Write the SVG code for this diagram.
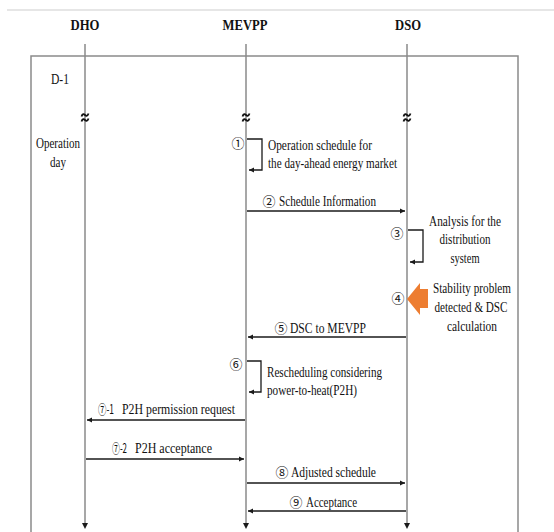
<svg xmlns="http://www.w3.org/2000/svg" width="554" height="532" viewBox="0 0 554 532">
<style>
text{font-family:"Liberation Serif","Noto Sans CJK KR",serif;font-size:14px;fill:#111}
.title{font-weight:bold;font-size:15px}
.c{text-anchor:middle}
.life{stroke:#8a8a8a;stroke-width:1.5;fill:none}
.msg{stroke:#1a1a1a;stroke-width:1.3;fill:none}
.sq{stroke:#111;stroke-width:1.8;fill:none}
.num{font-family:"Noto Sans CJK KR","DejaVu Sans",sans-serif;font-size:13px}
</style>
<defs>
<marker id="ah" markerWidth="6" markerHeight="6" refX="5" refY="3" orient="auto" markerUnits="userSpaceOnUse">
<path d="M0,0.5 L5,3 L0,5.5 Z" fill="#1a1a1a"/>
</marker>
<g id="squig">
<path class="sq" d="M-3.5,1.5 C-2.5,-1.5 -1,-1 0,0 S2.5,1.5 3.5,-1.5"/>
<path class="sq" d="M-3.5,6.5 C-2.5,3.5 -1,4 0,5 S2.5,6.5 3.5,3.5"/>
</g>
</defs>
<rect x="0" y="0" width="554" height="532" fill="#fff"/>
<line x1="7" y1="10" x2="554" y2="10" stroke="#e6e6e6" stroke-width="2"/>
<rect id="frame" x="31" y="56" width="487" height="490" fill="none" stroke="#8a8a8a" stroke-width="1.5"/>
<text x="51" y="84" textLength="18" lengthAdjust="spacingAndGlyphs">D-1</text>

<g id="DHO">
<text class="title c" x="85" y="30" textLength="29" lengthAdjust="spacingAndGlyphs">DHO</text>
<line class="life" x1="85" y1="44" x2="85" y2="524"/>
<path d="M82,523 L88,523 L85,529 Z" fill="#1a1a1a"/>
<use href="#squig" x="85" y="115"/>
<text class="c" x="58" y="148" textLength="44" lengthAdjust="spacingAndGlyphs">Operation</text>
<text class="c" x="58" y="167" textLength="16" lengthAdjust="spacingAndGlyphs">day</text>
</g>
<g id="MEVPP">
<text class="title c" x="245" y="30" textLength="45" lengthAdjust="spacingAndGlyphs">MEVPP</text>
<line class="life" x1="246" y1="44" x2="246" y2="524"/>
<path d="M243,523 L249,523 L246,529 Z" fill="#1a1a1a"/>
<use href="#squig" x="246" y="115"/>
</g>
<g id="DSO">
<text class="title c" x="408" y="30" textLength="26" lengthAdjust="spacingAndGlyphs">DSO</text>
<line class="life" x1="407" y1="44" x2="407" y2="524"/>
<path d="M404,523 L410,523 L407,529 Z" fill="#1a1a1a"/>
<use href="#squig" x="407" y="115"/>
</g>

<g id="connectors">
<path class="msg" d="M247,139 H262 V170 H249" marker-end="url(#ah)"/>
<line class="msg" x1="247" y1="211" x2="405" y2="211" marker-end="url(#ah)"/>
<path class="msg" d="M408,230 H423 V262 H410" marker-end="url(#ah)"/>
<line class="msg" x1="406" y1="337" x2="248" y2="337" marker-end="url(#ah)"/>
<path class="msg" d="M247,361 H261 V392 H249" marker-end="url(#ah)"/>
<line class="msg" x1="245" y1="420" x2="87" y2="420" marker-end="url(#ah)"/>
<line class="msg" x1="86" y1="459" x2="244" y2="459" marker-end="url(#ah)"/>
<line class="msg" x1="247" y1="483" x2="405" y2="483" marker-end="url(#ah)"/>
<line class="msg" x1="406" y1="511" x2="248" y2="511" marker-end="url(#ah)"/>
</g>

<g id="step1">
<text class="num c" x="238" y="148">①</text>
<text x="268" y="150" textLength="104" lengthAdjust="spacingAndGlyphs">Operation schedule for</text>
<text x="268" y="168" textLength="129" lengthAdjust="spacingAndGlyphs">the day-ahead  energy market</text>
</g>
<g id="step2">
<text class="num c" x="269" y="206">②</text>
<text x="279" y="206" textLength="97" lengthAdjust="spacingAndGlyphs">Schedule Information</text>
</g>
<g id="step3">
<text class="num c" x="397" y="238">③</text>
<text class="c" x="465" y="226" textLength="72" lengthAdjust="spacingAndGlyphs">Analysis  for the</text>
<text class="c" x="465" y="244" textLength="51" lengthAdjust="spacingAndGlyphs">distribution</text>
<text class="c" x="465" y="263" textLength="29" lengthAdjust="spacingAndGlyphs">system</text>
</g>
<g id="step4">
<text class="num c" x="398" y="303">④</text>
<path d="M407,299 L420,283 L420,289 L428,289 L428,308 L420,308 L420,315 Z" fill="#ed7d31"/>
<text class="c" x="472" y="293" textLength="78" lengthAdjust="spacingAndGlyphs">Stability problem</text>
<text class="c" x="471" y="312" textLength="73" lengthAdjust="spacingAndGlyphs">detected &amp; DSC</text>
<text class="c" x="472" y="331" textLength="50" lengthAdjust="spacingAndGlyphs">calculation</text>
</g>
<g id="step5">
<text class="num c" x="281" y="333">⑤</text>
<text x="290" y="333" textLength="76" lengthAdjust="spacingAndGlyphs">DSC to MEVPP</text>
</g>
<g id="step6">
<text class="num c" x="236" y="369">⑥</text>
<text x="267" y="377" textLength="115" lengthAdjust="spacingAndGlyphs">Rescheduling  considering</text>
<text x="267" y="395" textLength="90" lengthAdjust="spacingAndGlyphs">power-to-heat(P2H)</text>
</g>
<g id="step7-1">
<text class="num" x="98" y="414" textLength="16" lengthAdjust="spacingAndGlyphs">⑦-1</text>
<text x="122" y="414" textLength="113" lengthAdjust="spacingAndGlyphs">P2H permission request</text>
</g>
<g id="step7-2">
<text class="num" x="112" y="453" textLength="15" lengthAdjust="spacingAndGlyphs">⑦-2</text>
<text x="135" y="453" textLength="77" lengthAdjust="spacingAndGlyphs">P2H acceptance</text>
</g>
<g id="step8">
<text class="num c" x="282" y="477">⑧</text>
<text x="291" y="477" textLength="85" lengthAdjust="spacingAndGlyphs">Adjusted schedule</text>
</g>
<g id="step9">
<text class="num c" x="296" y="507">⑨</text>
<text x="306" y="507" textLength="51" lengthAdjust="spacingAndGlyphs">Acceptance</text>
</g>
</svg>
